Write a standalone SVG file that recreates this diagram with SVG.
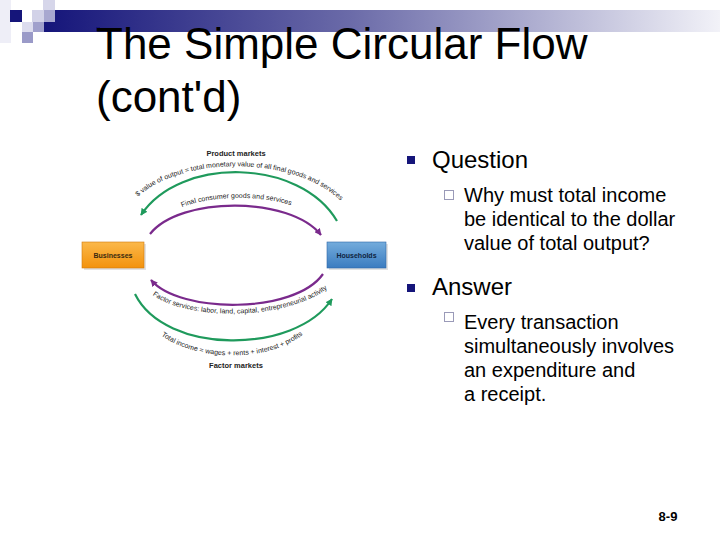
<svg xmlns="http://www.w3.org/2000/svg" width="720" height="540" viewBox="0 0 720 540">
<defs>
<linearGradient id="bar" x1="0" y1="0" x2="1" y2="0">
<stop offset="0" stop-color="#15157a"/>
<stop offset="0.45" stop-color="#6a6aa8"/>
<stop offset="1" stop-color="#f2f2f8"/>
</linearGradient>
<linearGradient id="orange" x1="0" y1="0" x2="0" y2="1">
<stop offset="0" stop-color="#fbb84a"/>
<stop offset="1" stop-color="#f3920c"/>
</linearGradient>
<linearGradient id="blue" x1="0" y1="0" x2="0" y2="1">
<stop offset="0" stop-color="#74acdc"/>
<stop offset="1" stop-color="#3b7cc0"/>
</linearGradient>
<marker id="ag" viewBox="0 0 10 10" refX="9" refY="5" markerWidth="7" markerHeight="7" markerUnits="userSpaceOnUse" orient="auto">
<path d="M0,0 L10,5 L0,10 z" fill="#1f9a5c"/>
</marker>
<marker id="ap" viewBox="0 0 10 10" refX="9" refY="5" markerWidth="7" markerHeight="7" markerUnits="userSpaceOnUse" orient="auto">
<path d="M0,0 L10,5 L0,10 z" fill="#7a2a8c"/>
</marker>
<path id="tp1" d="M 126 210 C 166 151, 310 151, 352 214"/>
<path id="tp2" d="M 175 211 C 200 195, 270 193, 298 209"/>
<path id="tp3" d="M 148 291 C 180 322, 290 322, 332 285"/>
<path id="tp4" d="M 158 333 C 195 363, 272 363, 306 332"/>
</defs>
<style>
.title{font-family:"Liberation Sans",Arial,sans-serif;font-size:44px;fill:#000}
.b1{font-family:"Liberation Sans",Arial,sans-serif;font-size:24px;fill:#000}
.b2{font-family:"Liberation Sans",Arial,sans-serif;font-size:20px;fill:#000}
.lab{font-family:"Liberation Sans",Arial,sans-serif;font-size:7px;fill:#222}
.mk{font-family:"Liberation Sans",Arial,sans-serif;font-size:7.5px;font-weight:bold;fill:#222;text-anchor:middle}
.box{font-family:"Liberation Sans",Arial,sans-serif;font-size:7px;font-weight:bold;text-anchor:middle}
.g{fill:none;stroke:#1f9a5c;stroke-width:2.2}
.p{fill:none;stroke:#7a2a8c;stroke-width:2.2}
</style>
<rect width="720" height="540" fill="#ffffff"/>
<g id="decor">
<rect x="0" y="0" width="11" height="43" fill="#eeeef7"/>
<rect x="44" y="10" width="676" height="22" fill="url(#bar)"/>
<rect x="43" y="0" width="12" height="10" fill="#d6d6ea"/>
<rect x="10" y="10" width="12" height="12" fill="#15157a"/>
<rect x="32" y="10" width="12" height="12" fill="#d2d2e8"/>
<rect x="44" y="10" width="11" height="12" fill="#a8a8d0"/>
<rect x="22" y="22" width="11" height="10" fill="#dcdcee"/>
<rect x="33" y="22" width="11" height="10" fill="#a0a0cc"/>
<rect x="22" y="32" width="11" height="11" fill="#9a9ac8"/>
<rect x="96" y="27" width="4" height="4" fill="#15157a"/>
</g>
<g id="title">
<text class="title" x="96" y="59">The Simple Circular Flow</text>
<text class="title" x="96" y="112">(cont'd)</text>
</g>
<g id="bullets">
<rect x="407" y="156" width="8" height="8" fill="#15157a"/>
<text class="b1" x="432" y="168">Question</text>
<rect x="444.5" y="190.5" width="9" height="9" fill="none" stroke="#9a9ab8" stroke-width="1"/>
<text class="b2" x="464" y="202">Why must total income</text>
<text class="b2" x="464" y="226">be identical to the dollar</text>
<text class="b2" x="464" y="250">value of total output?</text>
<rect x="407" y="284" width="8" height="8" fill="#15157a"/>
<text class="b1" x="432" y="295">Answer</text>
<rect x="444.5" y="312.5" width="9" height="9" fill="none" stroke="#9a9ab8" stroke-width="1"/>
<text class="b2" x="464" y="329">Every transaction</text>
<text class="b2" x="464" y="353">simultaneously involves</text>
<text class="b2" x="464" y="377">an expenditure and</text>
<text class="b2" x="464" y="401">a receipt.</text>
</g>
<g id="pagenum">
<text x="668" y="521" font-family="Liberation Sans, Arial, sans-serif" font-size="13" font-weight="bold" text-anchor="middle" fill="#000">8-9</text>
</g>
<g id="businesses">
<rect x="84" y="244" width="62" height="26" fill="#e2e2e2"/>
<rect x="82" y="242" width="62" height="26" fill="url(#orange)" stroke="#d07a10" stroke-width="0.6"/>
<text class="box" x="113" y="258" fill="#3a2a10">Businesses</text>
</g>
<g id="households">
<rect x="329" y="244" width="59" height="26" fill="#e2e2e2"/>
<rect x="327" y="242" width="59" height="26" fill="url(#blue)" stroke="#2f68a8" stroke-width="0.6"/>
<text class="box" x="356.5" y="258" fill="#0f2440">Households</text>
</g>
<g id="connectors">
<path class="g" d="M 337 221 C 300 158, 180 156, 141 215" marker-end="url(#ag)"/>
<path class="p" d="M 150 234 C 180 196, 290 196, 321 235" marker-end="url(#ap)"/>
<path class="p" d="M 323 274 C 295 314, 180 314, 151 280" marker-end="url(#ap)"/>
<path class="g" d="M 135 294 C 165 355, 295 355, 332 299" marker-end="url(#ag)"/>
</g>
<g id="labels">
<text class="mk" x="236" y="156">Product markets</text>
<text class="mk" x="236" y="368">Factor markets</text>
<text class="lab"><textPath href="#tp1" startOffset="50%" text-anchor="middle">$ value of output = total monetary value of all final goods and services</textPath></text>
<text class="lab"><textPath href="#tp2" startOffset="50%" text-anchor="middle">Final consumer goods and services</textPath></text>
<text class="lab"><textPath href="#tp3" startOffset="50%" text-anchor="middle">Factor services: labor, land, capital, entrepreneurial activity</textPath></text>
<text class="lab"><textPath href="#tp4" startOffset="50%" text-anchor="middle">Total income = wages + rents + interest + profits</textPath></text>
</g>
</svg>
